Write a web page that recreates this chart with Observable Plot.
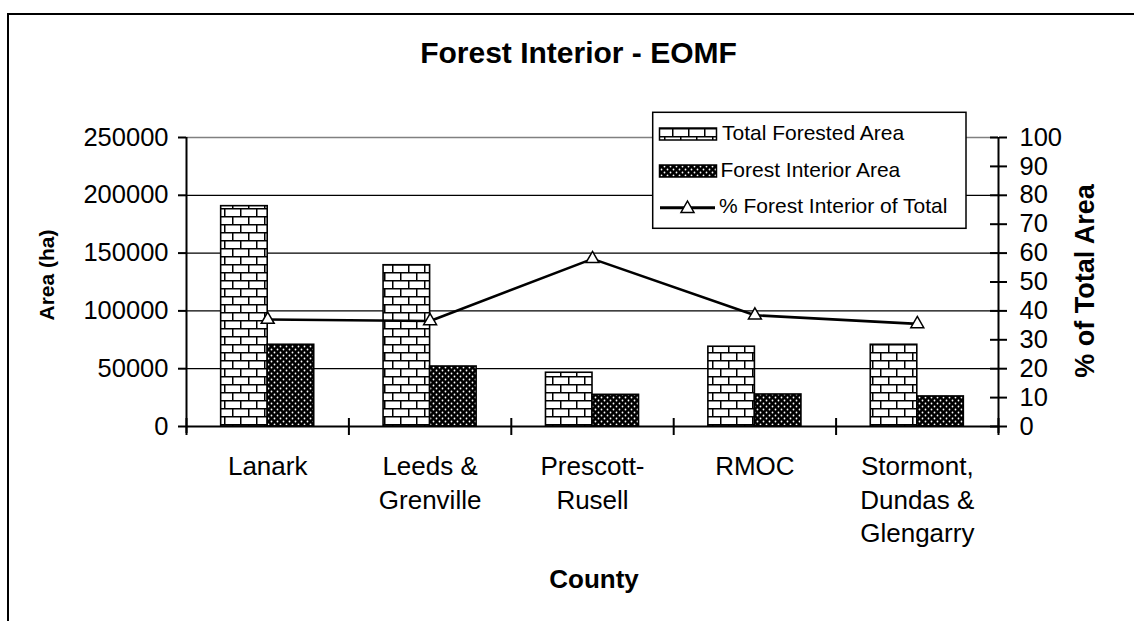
<!DOCTYPE html>
<html><head><meta charset="utf-8">
<script src="https://cdn.jsdelivr.net/npm/d3@7"></script>
<script src="https://cdn.jsdelivr.net/npm/@observablehq/plot@0.6"></script>
<style>
body{margin:0;background:#fff;font-family:"Liberation Sans",Arial,sans-serif;}
#wrap{position:relative;width:1134px;height:621px;overflow:hidden;background:#fff;}
#frame{position:absolute;left:7px;top:13px;width:1200px;height:700px;border-left:2px solid #000;border-top:2px solid #000;}
.t{position:absolute;white-space:nowrap;line-height:1;color:#000;font-family:"Liberation Sans",Arial,sans-serif;}
#chart{position:absolute;left:0;top:0;}
#legend{position:absolute;left:0;top:0;pointer-events:none;}
</style></head><body>
<svg width="0" height="0" style="position:absolute">
  <defs>
    <pattern id="brick" patternUnits="userSpaceOnUse" width="16" height="16">
      <rect width="16" height="16" fill="#fff"/>
      <path d="M0 0.75H16M0 8.75H16M0.75 0V8.75M8.75 8.75V16" stroke="#000" stroke-width="1.5" fill="none"/>
    </pattern>
    <pattern id="dots" patternUnits="userSpaceOnUse" width="6" height="6">
      <rect width="6" height="6" fill="#000"/>
      <circle cx="1.5" cy="1.5" r="0.9" fill="#fff"/>
      <circle cx="4.5" cy="4.5" r="0.9" fill="#fff"/>
    </pattern>
  </defs>
</svg>
<div id="wrap">
  <div id="frame"></div>
  <div id="chart"></div>
  <div class="t" style="font-weight:bold;font-size:30px;left:578.5px;top:37.9px;transform:translateX(-50%)">Forest Interior - EOMF</div>
  <div class="t" style="font-weight:bold;font-size:21px;left:46px;top:275px;transform:translate(-50%,-50%) rotate(-90deg)">Area (ha)</div>
  <div class="t" style="font-weight:bold;font-size:27px;left:1085px;top:281px;transform:translate(-50%,-50%) rotate(-90deg)">% of Total Area</div>
  <div class="t" style="font-weight:bold;font-size:26px;left:594px;top:566px;transform:translateX(-50%)">County</div>
  <svg id="legend" width="1134" height="621">
    <rect x="652.7" y="112.3" width="313.3" height="116" fill="#fff" stroke="#000" stroke-width="1.5"/>
    <rect x="659.5" y="128" width="57" height="12" fill="url(#brick)" stroke="#000" stroke-width="1.5"/>
    <text x="722" y="140" font-size="21" font-family="Liberation Sans, Arial, sans-serif">Total Forested Area</text>
    <rect x="659.5" y="165" width="57" height="12" fill="url(#dots)" stroke="#000" stroke-width="1.5"/>
    <text x="720.5" y="177" font-size="21" font-family="Liberation Sans, Arial, sans-serif">Forest Interior Area</text>
    <line x1="660" x2="715" y1="207.7" y2="207.7" stroke="#000" stroke-width="3"/>
    <path d="M687.5 201L694 212.5L681 212.5Z" fill="#fff" stroke="#000" stroke-width="1.5"/>
    <text x="719" y="213" font-size="21" font-family="Liberation Sans, Arial, sans-serif">% Forest Interior of Total</text>
  </svg>
</div>
<script>
// ---- data ----
const counties = ["Lanark", "Leeds & Grenville", "Prescott-Rusell", "RMOC", "Stormont, Dundas & Glengarry"];
const countyLabels = ["Lanark", "Leeds &\nGrenville", "Prescott-\nRusell", "RMOC", "Stormont,\nDundas &\nGlengarry"];
const totalForestedArea = [190600, 139500, 46500, 69000, 70700];
const forestInteriorArea = [70700, 51900, 27400, 27700, 26000];
const pctInteriorOfTotal = [37, 36.5, 58, 38.5, 35.5];
const areaTicks = [0, 50000, 100000, 150000, 200000, 250000];
const pctTicks = [0, 10, 20, 30, 40, 50, 60, 70, 80, 90, 100];
const pctToArea = 250000 / 100; // right axis 0–100 shares the left 0–250000 range

const rows = counties.map((c, i) => ({
  county: c, label: countyLabels[i],
  total: totalForestedArea[i], interior: forestInteriorArea[i], pct: pctInteriorOfTotal[i]
}));
const labelOf = new Map(counties.map((c, i) => [c, countyLabels[i]]));

const W = 1134, H = 621, ML = 186, MR = 136, MT = 137, MB = 195;
const plotW = W - ML - MR, plotH = H - MT - MB;
const step = plotW / counties.length;
const half = step / 2;
const barW = step * (1 - 0.427) / 2;

const chart = Plot.plot({
  width: W, height: H,
  marginLeft: ML, marginRight: MR, marginTop: MT, marginBottom: MB,
  style: {fontFamily: "Liberation Sans, Arial, sans-serif", background: "transparent", color: "#000", overflow: "visible"},
  x: {domain: counties, paddingInner: 0.427, paddingOuter: 0.2135, round: false},
  y: {domain: [0, 250000]},
  marks: [
    Plot.ruleY(areaTicks.filter(d => d > 0 && d < 250000), {stroke: "#000", strokeWidth: 1.3}),
    Plot.ruleY(areaTicks.filter(d => d === 250000), {stroke: "#808080", strokeWidth: 1.5}),
    Plot.barY(rows, {x: "county", y: "total", fill: "url(#brick)", stroke: "#000", strokeWidth: 1.6, insetRight: barW}),
    Plot.barY(rows, {x: "county", y: "interior", fill: "url(#dots)", stroke: "#000", strokeWidth: 1.6, insetLeft: barW}),
    Plot.ruleY([0], {stroke: "#000", strokeWidth: 2}),
    Plot.ruleX([counties[0]], {x: d => d, dx: -half, stroke: "#000", strokeWidth: 2, insetBottom: -7}),
    Plot.ruleX([counties[counties.length - 1]], {x: d => d, dx: half, stroke: "#000", strokeWidth: 2, insetBottom: -7}),
    Plot.ruleX(counties, {x: d => d, dx: -half, stroke: "#000", strokeWidth: 2, insetTop: plotH - 8, insetBottom: -9}),
    Plot.ruleX([counties[counties.length - 1]], {x: d => d, dx: half, stroke: "#000", strokeWidth: 2, insetTop: plotH - 8, insetBottom: -9}),
    Plot.ruleY(pctTicks.map(p => p * pctToArea), {stroke: "#000", strokeWidth: 2, insetLeft: plotW - 8}),
    Plot.line(rows, {x: "county", y: d => d.pct * pctToArea, stroke: "#000", strokeWidth: 2.6}),
    Plot.dot(rows, {x: "county", y: d => d.pct * pctToArea, symbol: "triangle", r: 4.8, fill: "#fff", stroke: "#000", strokeWidth: 1.5}),
    Plot.axisY(areaTicks, {anchor: "left", tickSize: 8, tickPadding: 10, strokeWidth: 2, fontSize: 25.5, tickFormat: d => String(d), label: null}),
    Plot.axisY(pctTicks.map(p => p * pctToArea), {anchor: "right", tickSize: 8, tickPadding: 13, strokeWidth: 2, fontSize: 25.5, tickFormat: d => String(Math.round(d / pctToArea)), label: null}),
    Plot.axisX({anchor: "bottom", tickSize: 0, tickPadding: 25, fontSize: 26, lineHeight: 1.29, tickFormat: d => labelOf.get(d), label: null})
  ]
});
document.getElementById("chart").appendChild(chart);
</script>
</body></html>
